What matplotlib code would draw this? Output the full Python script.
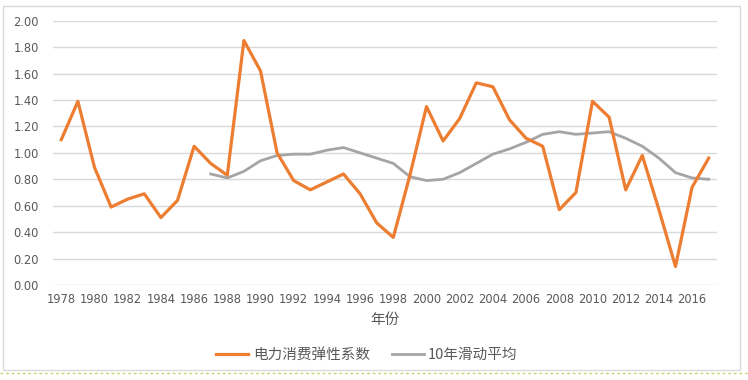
import matplotlib.pyplot as plt
from matplotlib.patches import Rectangle
from matplotlib.lines import Line2D

plt.rcParams['font.family'] = ['Noto Sans CJK SC', 'DejaVu Sans']

years = list(range(1978, 2018))
# 电力消费弹性系数
elasticity = [1.10, 1.39, 0.89, 0.59, 0.65, 0.69, 0.51, 0.64, 1.05, 0.92,
              0.83, 1.85, 1.62, 1.00, 0.79, 0.72, 0.78, 0.84, 0.69, 0.47,
              0.36, 0.83, 1.35, 1.09, 1.26, 1.53, 1.50, 1.25, 1.11, 1.05,
              0.57, 0.70, 1.39, 1.27, 0.72, 0.98, 0.57, 0.14, 0.74, 0.96]
# 10年滑动平均 (starts 1987)
ma_years = list(range(1987, 2018))
moving_avg = [0.84, 0.81, 0.86, 0.94, 0.98, 0.99, 0.99, 1.02, 1.04, 1.00,
              0.96, 0.92, 0.82, 0.79, 0.80, 0.85, 0.92, 0.99, 1.03, 1.08,
              1.14, 1.16, 1.14, 1.15, 1.16, 1.11, 1.05, 0.96, 0.85, 0.81, 0.80]
tick_years = years[::2]

fig = plt.figure(figsize=(7.48, 3.8), dpi=100)
ax = fig.add_axes([53/748, 1-285/380, 664/748, 264.3/380])

x = [y - 1978 for y in years]
xm = [y - 1978 for y in ma_years]
ax.plot(x, elasticity, color='#ED7D31', lw=2.3, label='电力消费弹性系数', zorder=3)
ax.plot(xm, moving_avg, color='#A5A5A5', lw=2.0, label='10年滑动平均', zorder=2)

ax.set_xlim(-0.5, 39.5)
ax.set_ylim(0, 2.0)
ax.set_yticks([i * 0.2 for i in range(11)])
ax.set_yticklabels(['%.2f' % (i * 0.2) for i in range(11)])
ax.set_xticks([y - 1978 for y in tick_years])
ax.set_xticklabels([str(y) for y in tick_years])
ax.tick_params(length=0, labelsize=8.3, colors='#595959', pad=6)
for lab in ax.get_xticklabels() + ax.get_yticklabels():
    lab.set_family('DejaVu Sans')
ax.tick_params(axis='y', pad=10)
ax.grid(axis='y', color='#D9D9D9', lw=1)
ax.set_axisbelow(True)
for s in ax.spines.values():
    s.set_visible(False)

fig.text(385/748, 1-320/380, '年份', ha='center', va='center', fontsize=10.5, color='#595959')

leg = fig.legend(loc='center', bbox_to_anchor=(367/748, 1-355/380), ncol=2, frameon=False,
                 fontsize=10.5, handlelength=2.2, handletextpad=0.3, columnspacing=1.5)
for t in leg.get_texts():
    t.set_color('#595959')

fig.add_artist(Rectangle((3/748, 1-370/380), 737/748, 364/380, transform=fig.transFigure,
                         fill=False, edgecolor='#D9D9D9', lw=1))
fig.add_artist(Line2D([0, 1], [1-373/380, 1-373/380], transform=fig.transFigure,
                      color='#C8D46A', lw=1, linestyle=(0, (2, 2))))

fig.savefig('out.png', dpi=100, facecolor='white')
